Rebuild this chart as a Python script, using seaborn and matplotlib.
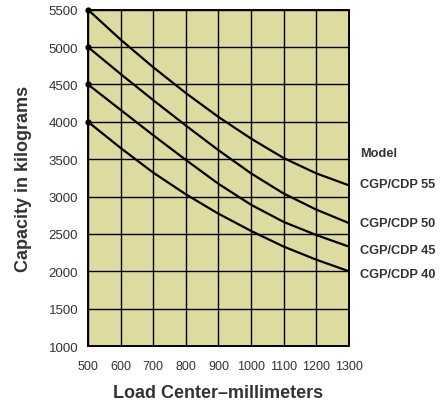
import numpy as np
import pandas as pd
import matplotlib
matplotlib.use("Agg")
import matplotlib.pyplot as plt
import seaborn as sns

# Data
load_center = [500, 600, 700, 800, 900, 1000, 1100, 1200, 1300]
cap_55 = [5500, 5100, 4730, 4385, 4065, 3775, 3515, 3310, 3150]
cap_50 = [5000, 4640, 4290, 3950, 3620, 3310, 3040, 2825, 2645]
cap_45 = [4500, 4160, 3820, 3490, 3170, 2890, 2660, 2485, 2330]
cap_40 = [4000, 3650, 3320, 3030, 2770, 2540, 2330, 2155, 2000]
models = ["CGP/CDP 55", "CGP/CDP 50", "CGP/CDP 45", "CGP/CDP 40"]
label_y = [3170, 2650, 2290, 1970]
x_ticks = [500, 600, 700, 800, 900, 1000, 1100, 1200, 1300]
y_ticks = [1000, 1500, 2000, 2500, 3000, 3500, 4000, 4500, 5000, 5500]

df = pd.DataFrame({
    "load": load_center * 4,
    "capacity": cap_55 + cap_50 + cap_45 + cap_40,
    "model": np.repeat(models, len(load_center)),
})

sns.set_style("white")
plt.rcParams["font.family"] = ["Liberation Sans", "DejaVu Sans"]

fig = plt.figure(figsize=(4.4, 4.06), dpi=100)
ax = fig.add_axes([0.2, 0.1453, 0.593, 0.8283])
ax.set_facecolor("#dddba0")

sns.lineplot(data=df, x="load", y="capacity", hue="model",
             palette=["black"] * 4, linewidth=1.6, legend=False, ax=ax,
             marker="o", markersize=4.5, markevery=[0], markeredgewidth=0,
             zorder=3)

ax.set_xlim(500, 1300)
ax.set_ylim(1000, 5500)
ax.set_xticks(x_ticks)
ax.set_yticks(y_ticks)
ax.grid(True, color="black", linewidth=1.0)
ax.set_axisbelow(True)
for s in ax.spines.values():
    s.set_color("black")
    s.set_linewidth(1.4)
ax.tick_params(length=0, labelsize=9.5, labelcolor="#333333")
ax.tick_params(axis="x", labelsize=9, pad=10)
ax.tick_params(axis="y", pad=7)
for lines in ax.get_lines():
    lines.set_clip_on(False)

ax.set_xlabel("Load Center\u2013millimeters", fontsize=13, fontweight="bold",
              color="#333333", labelpad=9)
ax.set_ylabel("Capacity in kilograms", fontsize=13, fontweight="bold",
              color="#333333", labelpad=12)

# model labels to the right of the curve ends
trans = ax.get_yaxis_transform()
ax.text(1.042, 3580, "Model", transform=trans, fontsize=9.2, fontweight="bold",
        color="#333333", va="center", ha="left")
for name, yv in zip(models, label_y):
    ax.text(1.042, yv, name, transform=trans, fontsize=9.2, fontweight="bold",
            color="#333333", va="center", ha="left")

fig.savefig("out.png", dpi=100)
